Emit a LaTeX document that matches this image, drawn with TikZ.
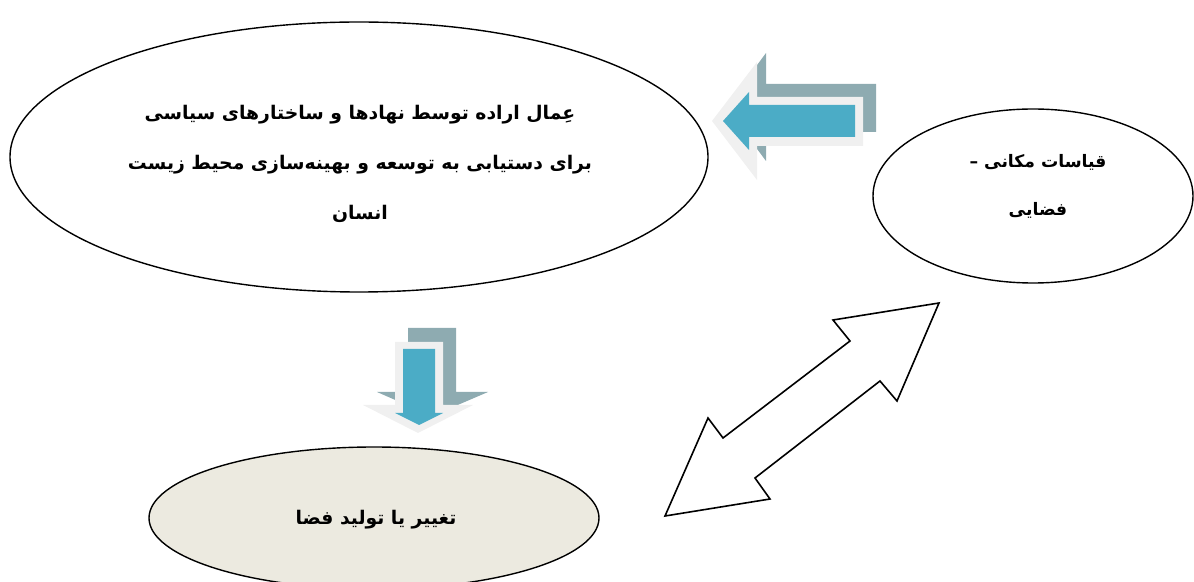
\documentclass[tikz,border=0pt]{standalone}
\usepackage{fontspec}
\newfontfamily\arabicfont[Script=Arabic]{DejaVu Sans}
\TeXXeTstate=1
\usetikzlibrary{shapes.geometric}
\definecolor{arrowteal}{HTML}{4BACC6}
\definecolor{arrowgray}{HTML}{8EABB1}
\definecolor{arrowlight}{HTML}{F0F0F0}
\definecolor{bubblefill}{HTML}{ECEAE0}

\begin{document}
\begin{tikzpicture}[x=0.5pt,y=-0.5pt,
  bubble/.style={draw,ellipse,line width=0.7pt,inner sep=0pt},
  txt/.style={font=\arabicfont\bfseries\fontsize{9.4}{25}\selectfont,align=center}]
  \useasboundingbox (0,0) rectangle (1194,582);

  \node[bubble,minimum width=349pt,minimum height=135pt] (action) at (359,157) {};
  \node[bubble,minimum width=160pt,minimum height=87pt] (measure) at (1033,196) {};
  \node[bubble,fill=bubblefill,minimum width=225pt,minimum height=71pt] (space) at (374,518) {};

  \node[txt] (actiontext) at (360,164) {\beginR عِمال اراده توسط نهادها و ساختارهای سیاسی\endR\\
    \beginR برای دستیابی به توسعه و بهینه‌سازی محیط زیست\endR\\
    \beginR انسان\endR};
  \node[txt,font=\arabicfont\bfseries\fontsize{8.6}{24}\selectfont] (measuretext) at (1038,186)
    {\beginR قیاسات مکانی –\endR\\ \beginR فضایی\endR};
  \node[txt] (spacetext) at (376,520) {\beginR تغییر یا تولید فضا\endR};

  % arrow from the right bubble to the big one
  \fill[arrowgray] (726,107) -- (766,53) -- (766,84) -- (876,84) -- (876,132) -- (766,132) -- (766,161) -- cycle;
  \fill[arrowlight] (712,121) -- (757,62) -- (757,97) -- (863,97) -- (863,146) -- (757,146) -- (757,180) -- cycle;
  \fill[arrowteal] (723,121) -- (749,92) -- (749,105) -- (855,105) -- (855,137) -- (749,137) -- (749,150) -- cycle;

  % arrow down to the bottom bubble
  \fill[arrowgray] (408,328) -- (456,328) -- (456,392) -- (488,392) -- (432,416) -- (377,392) -- (408,392) -- cycle;
  \fill[arrowlight] (395,342) -- (443,342) -- (443,405) -- (473,405) -- (418,433) -- (363,405) -- (395,405) -- cycle;
  \fill[arrowteal] (403,349) -- (435,349) -- (435,413) -- (443,413) -- (419,425) -- (395,413) -- (403,413) -- cycle;

  % two-headed arrow
  \draw[line width=0.8pt,fill=white] (939,303) -- (833,320) -- (850,341) -- (723,438) -- (708,418)
    -- (665,516) -- (770,499) -- (755,478) -- (880,381) -- (897,401) -- cycle;
\end{tikzpicture}
\end{document}
